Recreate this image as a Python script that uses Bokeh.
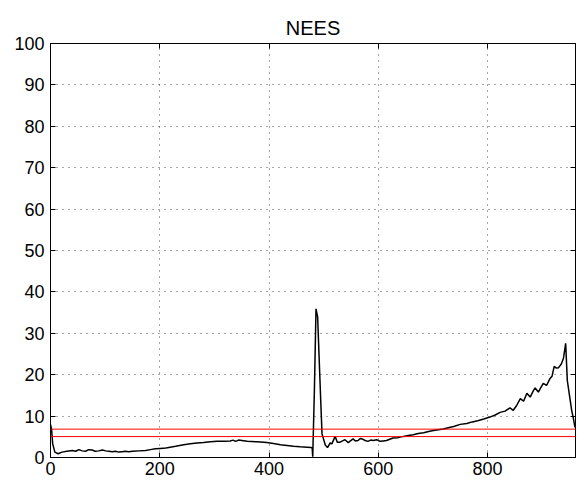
from bokeh.plotting import figure
from bokeh.models import Range1d, LinearAxis, FixedTicker, CustomJSTickFormatter, Span
from bokeh.embed import file_html
from bokeh.resources import INLINE

# ---- data ----
step = [0, 2, 4, 8, 14, 21, 30, 40, 46, 52, 58, 64, 70, 76, 82, 88, 95, 101, 107, 113,
        119, 125, 131, 137, 143, 150, 162, 174, 183, 192, 201, 211, 219, 229, 244, 256,
        268, 280, 293, 305, 317, 329, 334, 339, 344, 360, 378, 396, 408, 421, 433, 445,
        457, 470, 477, 479, 480, 483, 486, 489, 494, 497, 503, 507, 512, 515, 521, 525,
        530, 533, 539, 545, 549, 554, 558, 563, 567, 572, 576, 581, 586, 591, 597, 603,
        609, 615, 621, 627, 636, 646, 655, 664, 673, 683, 692, 701, 710, 719, 728, 738,
        750, 762, 772, 782, 793, 803, 813, 823, 832, 841, 847, 853, 860, 866, 872, 878,
        883, 887, 893, 898, 902, 908, 914, 918, 922, 926, 930, 935, 939, 943, 946, 950,
        954, 957, 960]
nees = [8.0, 6.8, 3.3, 1.3, 0.9, 1.3, 1.5, 1.7, 1.5, 1.9, 1.6, 1.5, 1.9, 1.8, 1.5, 1.6,
        1.8, 1.6, 1.5, 1.4, 1.5, 1.3, 1.4, 1.5, 1.4, 1.5, 1.6, 1.7, 1.9, 2.1, 2.2, 2.3,
        2.5, 2.7, 3.1, 3.3, 3.5, 3.6, 3.8, 3.9, 3.9, 4.0, 4.2, 3.9, 4.2, 3.9, 3.8, 3.6,
        3.4, 3.1, 2.9, 2.7, 2.6, 2.5, 2.4, 2.3, 0.2, 16.0, 35.9, 33.9, 16.0, 5.7, 3.0,
        2.4, 3.5, 3.3, 5.1, 3.7, 3.7, 3.9, 4.3, 3.6, 4.0, 4.5, 4.0, 4.1, 4.6, 4.4, 4.1,
        3.9, 4.2, 4.1, 4.3, 3.9, 4.0, 4.1, 4.4, 4.7, 4.8, 5.1, 5.3, 5.5, 5.8, 6.0, 6.3,
        6.5, 6.7, 6.9, 7.2, 7.5, 8.0, 8.2, 8.6, 8.9, 9.3, 9.7, 10.2, 10.9, 11.2, 12.0,
        11.4, 12.5, 14.2, 13.6, 15.5, 14.6, 15.9, 16.8, 15.8, 17.0, 17.9, 17.4, 19.0,
        19.6, 22.0, 21.6, 21.7, 22.6, 24.0, 27.6, 18.6, 15.0, 11.4, 9.5, 7.3]
bounds = [6.85, 5.05]
x_ticks = [0, 200, 400, 600, 800]
y_ticks = [0, 10, 20, 30, 40, 50, 60, 70, 80, 90, 100]

FONT = "Liberation Sans"

p = figure(width=577, height=487, x_range=Range1d(0, 961), y_range=Range1d(0, 100),
           output_backend="svg", toolbar_location=None, title="NEES",
           min_border_left=50, min_border_right=2, min_border_top=43, min_border_bottom=30)
p.background_fill_color = "white"
p.border_fill_color = "white"
p.outline_line_color = "black"
p.outline_line_width = 1

p.title.align = "center"
p.title.text_font = FONT
p.title.text_font_size = "20px"
p.title.text_font_style = "normal"
p.title.text_color = "black"

for ax, ticks in ((p.xaxis[0], x_ticks), (p.yaxis[0], y_ticks)):
    ax.ticker = FixedTicker(ticks=ticks)
    ax.major_tick_in = 5
    ax.major_tick_out = 0
    ax.minor_tick_line_color = None
    ax.axis_line_color = "black"
    ax.major_tick_line_color = "black"
    ax.major_label_text_font = FONT
    ax.major_label_text_font_size = "18px"
    ax.major_label_text_color = "black"
p.xaxis[0].major_label_standoff = 4
p.yaxis[0].major_label_standoff = 6

blank = CustomJSTickFormatter(code="return '';")
top = LinearAxis(ticker=FixedTicker(ticks=x_ticks), formatter=blank, major_tick_in=5,
                 major_tick_out=0, minor_tick_line_color=None, major_label_standoff=0,
                 axis_line_color="black")
right = LinearAxis(ticker=FixedTicker(ticks=y_ticks), formatter=blank, major_tick_in=5,
                   major_tick_out=0, minor_tick_line_color=None, major_label_standoff=0,
                   axis_line_color="black")
p.add_layout(top, "above")
p.add_layout(right, "right")

for g, ticks in ((p.xgrid[0], x_ticks), (p.ygrid[0], y_ticks)):
    g.ticker = FixedTicker(ticks=ticks)
    g.grid_line_color = "black"
    g.grid_line_alpha = 0.7
    g.grid_line_dash = "1 5"
    g.grid_line_width = 1

for b in bounds:
    p.add_layout(Span(location=b, dimension="width", line_color="red", line_width=1))

p.line(step, nees, line_color="black", line_width=1.5)

open("out.html", "w").write(file_html(p, INLINE))
